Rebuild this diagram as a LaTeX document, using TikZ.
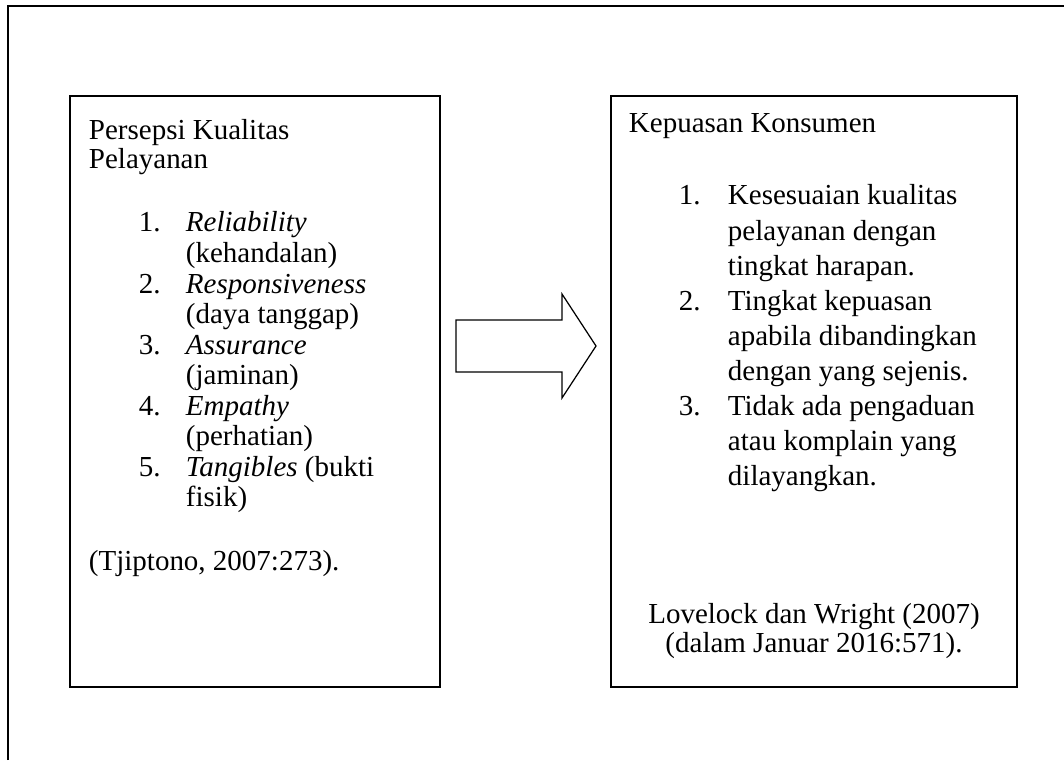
\documentclass[tikz,border=0pt]{standalone}
\usepackage{fontspec}
\setmainfont{Liberation Serif}
\usetikzlibrary{calc}

\begin{document}
\begin{tikzpicture}[x=0.02cm, y=-0.02cm, line width=1.1pt,
  teks/.style={anchor=base west, inner sep=0pt, font=\fontsize{16.5}{20}\selectfont},
  tengah/.style={teks, anchor=base}]
\useasboundingbox (0,0) rectangle (1064,760);

% outer frame (open at right and bottom)
\coordinate (O1) at (8,760);
\coordinate (O2) at (8,6);
\coordinate (O3) at (1064,6);
\draw[line width=1.3pt] (O1) -- (O2) -- (O3);

% boxes
\coordinate (A) at (70,96);
\coordinate (B) at (440,687);
\draw (A) rectangle (B);
\coordinate (C) at (611,96);
\coordinate (D) at (1017,687);
\draw (C) rectangle (D);

% block arrow
\coordinate (P) at (456,346);
\coordinate (T) at (596,346);
\draw[line width=0.7pt] (P) ++(0,-26) -- ++(106,0) -- ++(0,-26) -- (T)
  -- ++(-34,52) -- ++(0,-26) -- ++(-106,0) -- cycle;

% left box text
\node[teks] (a1) at (88,140) {Persepsi Kualitas};
\node[teks] (a2) at (88,169) {Pelayanan};

\node[teks] (n1) at (138,232) {1.};
\node[teks] (i1) at (185,232) {\textit{Reliability}};
\node[teks] (i1b) at (185,262.5) {(kehandalan)};
\node[teks] (n2) at (138,293) {2.};
\node[teks] (i2) at (185,293) {\textit{Responsiveness}};
\node[teks] (i2b) at (185,323.5) {(daya tanggap)};
\node[teks] (n3) at (138,354) {3.};
\node[teks] (i3) at (185,354) {\textit{Assurance}};
\node[teks] (i3b) at (185,384.5) {(jaminan)};
\node[teks] (n4) at (138,415) {4.};
\node[teks] (i4) at (185,415) {\textit{Empathy}};
\node[teks] (i4b) at (185,445.5) {(perhatian)};
\node[teks] (n5) at (138,476) {5.};
\node[teks] (i5) at (185,476) {\textit{Tangibles} (bukti};
\node[teks] (i5b) at (185,506.5) {fisik)};

\node[teks] (sumberA) at (88,570) {(Tjiptono, 2007:273).};

% right box text
\node[teks] (b1) at (628,133) {Kepuasan Konsumen};

\node[teks] (m1) at (678,205) {1.};
\node[teks] (k1) at (727,205) {Kesesuaian kualitas};
\node[teks] (k1b) at (727,240) {pelayanan dengan};
\node[teks] (k1c) at (727,275) {tingkat harapan.};
\node[teks] (m2) at (678,310) {2.};
\node[teks] (k2) at (727,310) {Tingkat kepuasan};
\node[teks] (k2b) at (727,345) {apabila dibandingkan};
\node[teks] (k2c) at (727,380) {dengan yang sejenis.};
\node[teks] (m3) at (678,415) {3.};
\node[teks] (k3) at (727,415) {Tidak ada pengaduan};
\node[teks] (k3b) at (727,450) {atau komplain yang};
\node[teks] (k3c) at (727,485) {dilayangkan.};

\node[tengah] (sumberB) at (814,623) {Lovelock dan Wright (2007)};
\node[tengah] (sumberC) at (814,652) {(dalam Januar 2016:571).};

\end{tikzpicture}
\end{document}
